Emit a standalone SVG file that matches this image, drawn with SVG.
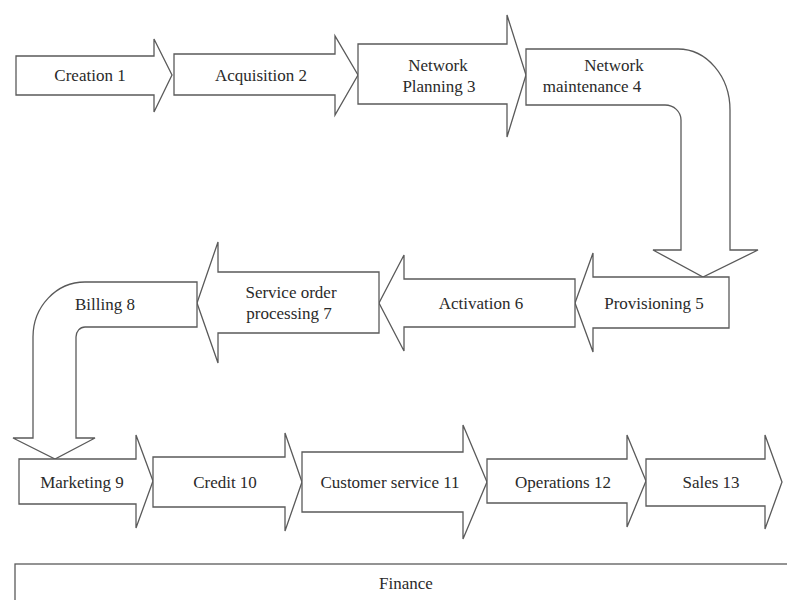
<svg xmlns="http://www.w3.org/2000/svg" width="787" height="600" viewBox="0 0 787 600">
  <style>
    .shape { fill: #ffffff; stroke: #5a5a5a; stroke-width: 1.3; stroke-linejoin: miter; }
    .lbl { font-family: "Liberation Serif", "Times New Roman", serif; font-size: 17px; fill: #2a2a2a; text-anchor: middle; }
  </style>
  <rect width="787" height="600" fill="#ffffff"/>

  <!-- top row: left to right -->
  <g id="creation">
    <path class="shape" d="M16,56 L154,56 L154,39 L172,75 L154,112 L154,95 L16,95 Z"/>
    <text class="lbl" x="90" y="81">Creation 1</text>
  </g>
  <g id="acquisition">
    <path class="shape" d="M174,54 L335,54 L335,36 L358,75 L335,115 L335,95 L174,95 Z"/>
    <text class="lbl" x="261" y="81">Acquisition 2</text>
  </g>
  <g id="network-planning">
    <path class="shape" d="M358,44 L507,44 L507,15 L526,75 L507,137 L507,104 L358,104 Z"/>
    <text class="lbl" x="438" y="71">Network</text>
    <text class="lbl" x="439" y="92">Planning 3</text>
  </g>
  <g id="network-maintenance">
    <path class="shape" d="M526,49 L678,49 A52,61 0 0 1 730,110 L730,250 L758,250 L703,277 L653,250 L681,250 L681,120 A16,15 0 0 0 665,105 L526,105 Z"/>
    <text class="lbl" x="614" y="71">Network</text>
    <text class="lbl" x="592" y="92">maintenance 4</text>
  </g>

  <!-- middle row: right to left -->
  <g id="provisioning">
    <path class="shape" d="M729,277 L593,277 L593,253 L575,303 L593,352 L593,328 L729,328 Z"/>
    <text class="lbl" x="654" y="309">Provisioning 5</text>
  </g>
  <g id="activation">
    <path class="shape" d="M575,279 L404,279 L404,255 L379,303 L404,351 L404,327 L575,327 Z"/>
    <text class="lbl" x="481" y="309">Activation 6</text>
  </g>
  <g id="service-order">
    <path class="shape" d="M379,272 L218,272 L218,242 L197,303 L218,363 L218,333 L379,333 Z"/>
    <text class="lbl" x="291" y="298">Service order</text>
    <text class="lbl" x="289" y="319">processing 7</text>
  </g>
  <g id="billing">
    <path class="shape" d="M197,282 L85,282 A52,55 0 0 0 33,337 L33,438 L13,438 L55,459 L95,438 L76,438 L76,337 A9,10 0 0 1 85,327 L197,327 Z"/>
    <text class="lbl" x="105" y="310">Billing 8</text>
  </g>

  <!-- bottom row: left to right -->
  <g id="marketing">
    <path class="shape" d="M19,459 L136,459 L136,435 L153,481 L136,528 L136,504 L19,504 Z"/>
    <text class="lbl" x="82" y="488">Marketing 9</text>
  </g>
  <g id="credit">
    <path class="shape" d="M153,457 L285,457 L285,433 L302,482 L285,531 L285,507 L153,507 Z"/>
    <text class="lbl" x="225" y="488">Credit 10</text>
  </g>
  <g id="customer-service">
    <path class="shape" d="M302,452 L463,452 L463,425 L487,482 L463,539 L463,512 L302,512 Z"/>
    <text class="lbl" x="390" y="488">Customer service 11</text>
  </g>
  <g id="operations">
    <path class="shape" d="M487,459 L627,459 L627,435 L646,481 L627,527 L627,503 L487,503 Z"/>
    <text class="lbl" x="563" y="488">Operations 12</text>
  </g>
  <g id="sales">
    <path class="shape" d="M646,459 L765,459 L765,435 L782,482 L765,529 L765,506 L646,506 Z"/>
    <text class="lbl" x="711" y="488">Sales 13</text>
  </g>

  <!-- base band -->
  <g id="finance">
    <rect class="shape" x="15" y="564" width="800" height="60"/>
    <text class="lbl" x="406" y="589">Finance</text>
  </g>

  <!-- the arrows abut directly; no separate connector lines -->
  <g id="connectors"/>
</svg>
